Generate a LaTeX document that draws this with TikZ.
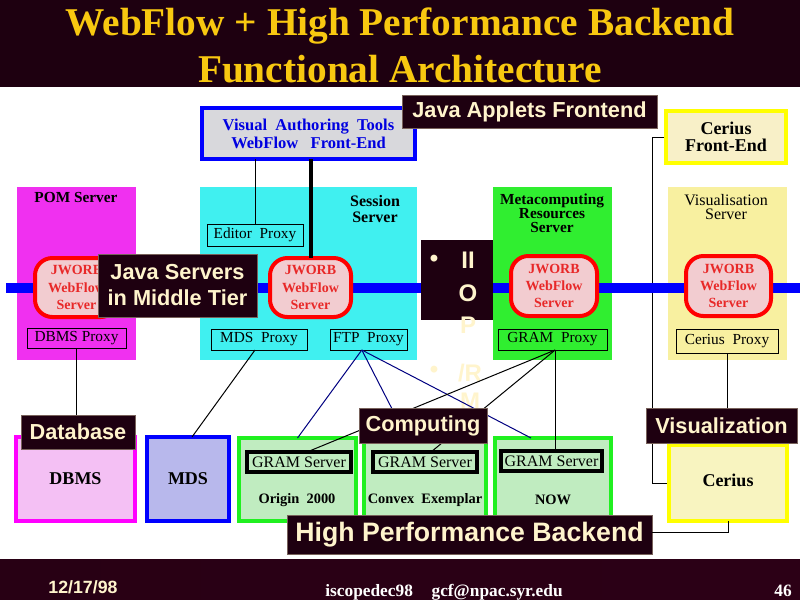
\documentclass[tikz,border=0pt]{standalone}
\usepackage{fontspec}
\setmainfont{Liberation Serif}
\setsansfont{Liberation Sans}
\usetikzlibrary{calc}
\definecolor{labc}{HTML}{1E0010}
\definecolor{labt}{HTML}{FFF4CC}
\definecolor{gold}{HTML}{F8C810}
\definecolor{pomc}{HTML}{F030F0}
\definecolor{sesc}{HTML}{40F0F0}
\definecolor{metc}{HTML}{30EE30}
\definecolor{visc}{HTML}{F8F0A0}
\definecolor{jwc}{HTML}{F2CCD0}
\definecolor{jwr}{HTML}{FF0000}
\definecolor{jwt}{HTML}{E82828}
\definecolor{vatc}{HTML}{D8D8DC}
\definecolor{vatb}{HTML}{0000FF}
\definecolor{vatt}{HTML}{0000E0}
\definecolor{cfec}{HTML}{F8F0C8}
\definecolor{yel}{HTML}{FFFF00}
\definecolor{dbmsc}{HTML}{F4C0F4}
\definecolor{mag}{HTML}{FF00FF}
\definecolor{mdsc}{HTML}{B8B8EC}
\definecolor{hpc}{HTML}{C0ECC0}
\definecolor{hpb}{HTML}{20F020}
\definecolor{cerc}{HTML}{F8F4C0}
\definecolor{busc}{HTML}{0000FF}
\definecolor{navy}{HTML}{000080}
\definecolor{footl}{HTML}{280014}
\definecolor{footm}{HTML}{5C0030}
\definecolor{footr}{HTML}{2C0016}
\pgfdeclarelayer{bg}
\pgfdeclarelayer{buslayer}
\pgfsetlayers{bg,buslayer,main}
\begin{document}
\begin{tikzpicture}[x=0.75pt,y=-0.75pt,
  rect/.style args={#1:#2:#3:#4}{minimum width={(#3-#1)*0.75pt}, minimum height={(#4-#2)*0.75pt}, at={({(#1+#3)/2},{(#2+#4)/2})}},
  box/.style={inner sep=0pt, outer sep=0pt, align=center},
  cont/.style={box, draw=none},
  stitle/.style={inner sep=0pt, align=center, text=black, font=\bfseries\fontsize{11.5}{10.5}\selectfont},
  proxy/.style={box, draw=black, line width=0.75pt, font=\fontsize{11.5}{13}\selectfont},
  jworb/.style={box, draw=jwr, fill=jwc, line width=3pt, rounded corners=13pt, text=jwt, font=\bfseries\fontsize{10.5}{13}\selectfont},
  lab/.style={box, fill=labc, draw=labt!40!labc, line width=0.5pt, text=labt, font=\sffamily\bfseries\fontsize{16.3}{19.5}\selectfont},
  bbox/.style={box, line width=3.5pt, font=\bfseries\fontsize{13.5}{15}\selectfont},
  gram/.style={box, draw=black, line width=3pt, font=\fontsize{12}{14}\selectfont},
  mname/.style={inner sep=0pt, font=\bfseries\fontsize{10.8}{12}\selectfont},
  iiopt/.style={inner sep=0pt, text=labt, font=\sffamily\bfseries\fontsize{18}{20}\selectfont},
  thinl/.style={line width=0.75pt, draw=black},
  ftpl/.style={line width=0.75pt, draw=navy},
]
\useasboundingbox (0,0) rectangle (800,600);

% ---- background bands and containers
\begin{pgfonlayer}{bg}
\fill[labc] (0,0) rectangle (800,87);
\shade[left color=footl, middle color=footm, right color=footr] (0,559) rectangle (800,600);
\node[cont, fill=pomc, rect=17:187:136:360] (pom) {};
\node[cont, fill=sesc, rect=200:187:417:360] (ses) {};
\node[cont, fill=metc, rect=493:187:612:360] (met) {};
\node[cont, fill=visc, rect=668:187:787:360] (vis) {};
\end{pgfonlayer}

% ---- title and footer
\node[anchor=base, text=gold, inner sep=0pt, font=\bfseries\fontsize{29.5}{36}\selectfont] (t1) at (400,35) {WebFlow + High Performance Backend};
\node[anchor=base, text=gold, inner sep=0pt, font=\bfseries\fontsize{29.5}{36}\selectfont] (t2) at (400,82) {Functional Architecture};
\node[anchor=base, text=labt, inner sep=0pt, font=\sffamily\bfseries\fontsize{13.3}{15}\selectfont] (date) at (83,593) {12/17/98};
\node[anchor=base, text=white, inner sep=0pt, font=\bfseries\fontsize{13}{15}\selectfont] (foot) at (444,596) {iscopedec98\hspace{14pt}gcf@npac.syr.edu};
\node[anchor=base, text=white, inner sep=0pt, font=\bfseries\fontsize{13}{15}\selectfont] (page) at (783,596) {46};

% ---- container titles
\node[stitle] (pomt) at (76,197) {POM Server};
\node[stitle, font=\bfseries\fontsize{12}{11.5}\selectfont] (sest) at (375,209) {Session\\Server};
\node[stitle] (mett) at (552,213) {Metacomputing\\Resources\\Server};
\node[stitle, font=\fontsize{12}{11}\selectfont] (vist) at (726,207) {Visualisation\\Server};

% ---- front ends
\node[box, draw=vatb, fill=vatc, line width=3pt, text=vatt, font=\bfseries\fontsize{12.4}{13.5}\selectfont, rect=202:108:415:159] (vat) {Visual\ \ Authoring\ \ Tools\\WebFlow\ \ \ Front-End};
\node[box, draw=yel, fill=cfec, line width=3pt, font=\bfseries\fontsize{13.5}{12.75}\selectfont, rect=666:111:786:163] (cfe) {Cerius\\Front-End};

% ---- proxies
\node[proxy, rect=207:224:303:246] (edp) {Editor\ \ Proxy};
\node[proxy, rect=27:328:126:348] (dbp) {DBMS\ Proxy};
\node[proxy, rect=211:329:307:350] (mdp) {MDS\ \ Proxy};
\node[proxy, rect=330:329:407:350] (ftp) {FTP\ \ Proxy};
\node[proxy, rect=498:329:607:350] (grp) {GRAM\ \ Proxy};
\node[proxy, rect=676:329:778:353] (cep) {Cerius\ \ Proxy};

% ---- JWORB servers
\node[jworb, rect=35:258:118:317] (jw1) {JWORB\\WebFlow\\Server};
\node[jworb, rect=270:258:351:317] (jw2) {JWORB\\WebFlow\\Server};
\node[jworb, rect=511:256:597:316] (jw3) {JWORB\\WebFlow\\Server};
\node[jworb, rect=686:256:771:316] (jw4) {JWORB\\WebFlow\\Server};

% ---- back end
\node[bbox, draw=mag, fill=dbmsc, rect=16:437:135:521] (dbms) {DBMS};
\node[bbox, draw=vatb, fill=mdsc, rect=147:437:229:521] (mds) {MDS};
\node[bbox, draw=hpb, fill=hpc, rect=239:438:356:521] (org) {};
\node[bbox, draw=hpb, fill=hpc, rect=364:438:486:521] (cvx) {};
\node[bbox, draw=hpb, fill=hpc, rect=495:438:611:521] (now) {};
\node[bbox, draw=yel, fill=cerc, rect=669:445:787:521] (cer) {\raisebox{3.5pt}{Cerius}};
\node[gram, rect=247:452:351:472] (gs1) {GRAM Server};
\node[gram, rect=373:452:477:472] (gs2) {GRAM Server};
\node[gram, rect=501:451:602:471] (gs3) {GRAM Server};
\node[mname] (orgt) at (297,500) {Origin\ \ 2000};
\node[mname] (cvxt) at (425,500) {Convex\ \ Exemplar};
\node[mname] (nowt) at (553,500) {NOW};

% ---- bus and Cerius front-end link (below the servers)
\coordinate (busl) at (6,288);
\coordinate (busr) at (800,288);
\begin{pgfonlayer}{buslayer}
\draw[thinl] (cfe.west) -- ++(-14,0) |- (cer.west);
\draw[busc, line width=7.5pt] (busl) -- (busr);
\end{pgfonlayer}

% ---- IIOP box and text
\node[box, fill=labc, rect=421:240:493:320] (iiop) {};
\node[iiopt] (ib1) at (434,261) {\textbullet};
\node[iiopt] (ii1) at (468,260) {II};
\node[iiopt] (ii2) at (468,293) {O};
\node[iiopt] (ii3) at (468,325) {P};
\node[iiopt] (ib2) at (434,372) {\textbullet};
\node[iiopt] (ii4) at (470,373) {/R};
\node[iiopt] (ii5) at (470,401) {M};

% ---- connectors
\draw[thinl] (edp.north) -- (edp.north |- vat.south);
\draw[black, line width=3pt] (jw2.north) -- (jw2.north |- vat.south);
\draw[thinl] (dbp.south) -- (dbp.south |- 0,415);
\draw[thinl] ([xshift=-3pt]mdp.south) -- ([xshift=3pt]mds.north);
\draw[ftpl] ([xshift=-5pt]ftp.south) -- (org.north);
\draw[ftpl] ([xshift=-5pt]ftp.south) -- ([xshift=-13.5pt]cvx.north);
\draw[ftpl] ([xshift=-5pt]ftp.south) -- ([xshift=-16.5pt]now.north);
\draw[thinl] ([xshift=2pt]grp.south) -- ([xshift=6pt]gs1.north);
\draw[thinl] ([xshift=2pt]grp.south) -- ([xshift=4.5pt]gs2.north);
\draw[thinl] ([xshift=2pt]grp.south) -- ([xshift=2pt]grp.south |- gs3.north);
\draw[thinl] (cep.south) -- (cep.south |- 0,408);

% ---- labels
\node[lab, rect=402:95:657:128] (jaf) {Java Applets Frontend};
\node[lab, rect=98:254:257:317] (jsm) {Java Servers\\in Middle Tier};
\node[lab, rect=21:415:135:449] (dbl) {Database};
\node[lab, rect=359:408:487:443] (cpl) {Computing};
\node[lab, rect=646:408:797:443] (vzl) {Visualization};
\node[lab, font=\sffamily\bfseries\fontsize{20}{24}\selectfont, rect=287:515:652:554] (hpl) {High Performance Backend};
\draw[thinl] (hpl.east |- 0,532) -| (cer.south);
\end{tikzpicture}
\end{document}
